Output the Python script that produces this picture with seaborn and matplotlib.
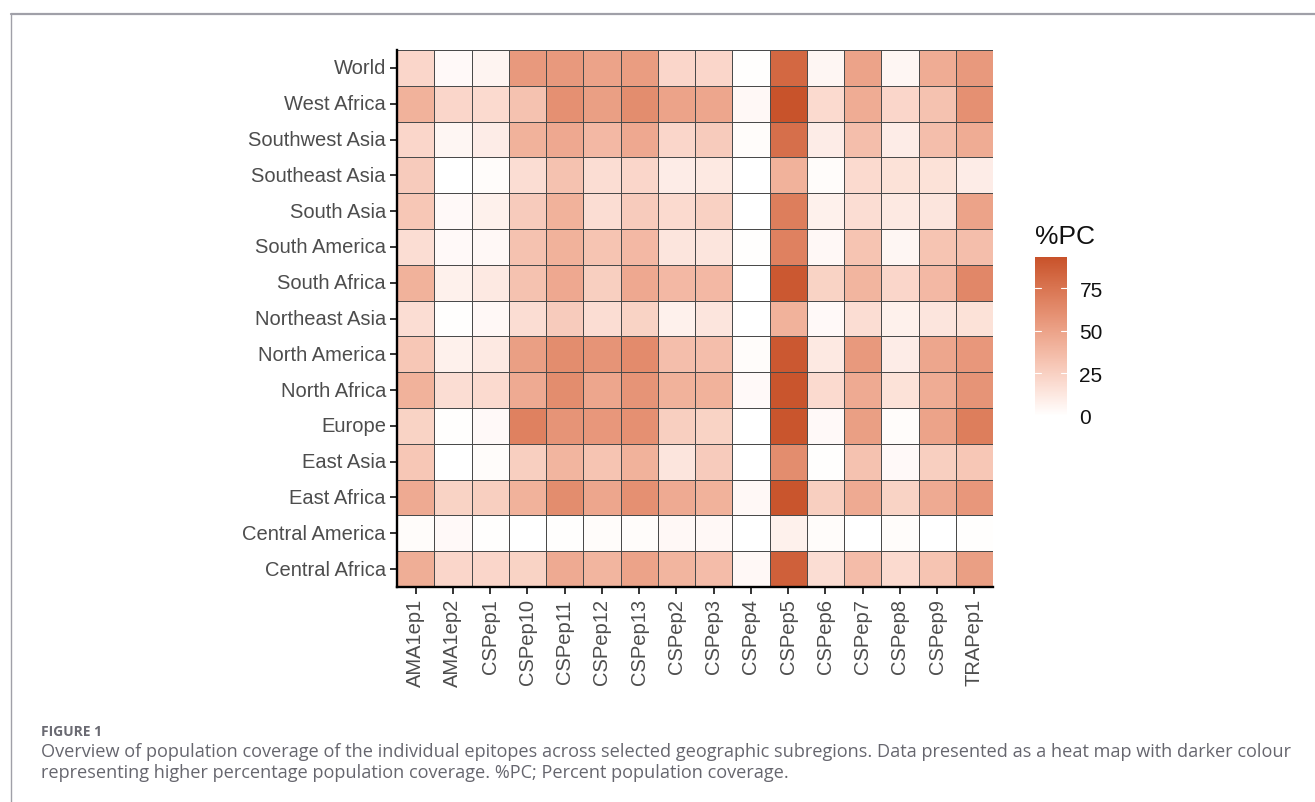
import numpy as np
import pandas as pd
import matplotlib
matplotlib.use("Agg")
import matplotlib.pyplot as plt
from matplotlib.colors import ListedColormap, to_rgb
from matplotlib.lines import Line2D
import seaborn as sns

epitopes = ["AMA1ep1", "AMA1ep2", "CSPep1", "CSPep10", "CSPep11", "CSPep12",
            "CSPep13", "CSPep2", "CSPep3", "CSPep4", "CSPep5", "CSPep6",
            "CSPep7", "CSPep8", "CSPep9", "TRAPep1"]

regions = ["World", "West Africa", "Southwest Asia", "Southeast Asia",
           "South Asia", "South America", "South Africa", "Northeast Asia",
           "North America", "North Africa", "Europe", "East Asia",
           "East Africa", "Central America", "Central Africa"]

# Percent population coverage (%PC) per region, one list per epitope order above
pc_world          = [22, 3, 6, 55, 55, 50, 53, 22, 22, 1, 82, 5, 50, 5, 45, 55]
pc_west_africa    = [42, 22, 20, 33, 60, 52, 62, 50, 48, 4, 93, 20, 45, 22, 33, 60]
pc_southwest_asia = [22, 5, 10, 42, 47, 38, 47, 22, 28, 2, 78, 10, 35, 10, 35, 45]
pc_southeast_asia = [28, 0, 2, 18, 33, 18, 22, 10, 12, 0, 42, 2, 20, 16, 16, 10]
pc_south_asia     = [30, 3, 8, 28, 42, 18, 28, 20, 25, 0, 70, 8, 18, 12, 14, 50]
pc_south_america  = [18, 3, 4, 33, 42, 32, 38, 14, 14, 1, 68, 4, 32, 5, 32, 35]
pc_south_africa   = [42, 8, 12, 33, 47, 26, 47, 38, 38, 0, 90, 24, 40, 22, 38, 65]
pc_northeast_asia = [18, 1, 4, 18, 28, 18, 24, 8, 14, 0, 42, 3, 18, 8, 14, 16]
pc_north_america  = [30, 8, 12, 52, 62, 58, 63, 35, 35, 2, 90, 12, 55, 10, 48, 56]
pc_north_africa   = [42, 18, 20, 46, 62, 48, 58, 42, 42, 3, 92, 20, 46, 16, 45, 58]
pc_europe         = [24, 1, 3, 68, 58, 56, 60, 26, 24, 0, 92, 3, 52, 2, 50, 70]
pc_east_asia      = [30, 0, 2, 26, 40, 32, 42, 14, 28, 0, 62, 1, 33, 3, 26, 30]
pc_east_africa    = [46, 24, 26, 42, 62, 48, 60, 46, 42, 4, 92, 26, 46, 24, 46, 56]
pc_central_america = [2, 3, 1, 0, 1, 2, 2, 4, 4, 0, 8, 2, 0, 2, 0, 1]
pc_central_africa = [44, 22, 22, 24, 46, 40, 50, 40, 36, 4, 86, 18, 36, 20, 32, 52]

cbar_ticks = [0, 25, 50, 75]

coverage = pd.DataFrame(
    [pc_world, pc_west_africa, pc_southwest_asia, pc_southeast_asia,
     pc_south_asia, pc_south_america, pc_south_africa, pc_northeast_asia,
     pc_north_america, pc_north_africa, pc_europe, pc_east_asia,
     pc_east_africa, pc_central_america, pc_central_africa],
    index=regions, columns=epitopes)


# --- white -> burnt orange gradient interpolated in CIE Lab ---
_WHITE_REF = np.array([0.95047, 1.0, 1.08883])
_M = np.array([[0.4124564, 0.3575761, 0.1804375],
               [0.2126729, 0.7151522, 0.0721750],
               [0.0193339, 0.1191920, 0.9503041]])


def srgb_to_lab(rgb):
    rgb = np.asarray(rgb, dtype=float)
    lin = np.where(rgb <= 0.04045, rgb / 12.92, ((rgb + 0.055) / 1.055) ** 2.4)
    xyz = _M @ lin / _WHITE_REF
    f = np.where(xyz > (6 / 29) ** 3, np.cbrt(xyz), xyz / (3 * (6 / 29) ** 2) + 4 / 29)
    return np.array([116 * f[1] - 16, 500 * (f[0] - f[1]), 200 * (f[1] - f[2])])


def lab_to_srgb(lab):
    L, a, b = lab
    fy_ = (L + 16) / 116
    fx_ = fy_ + a / 500
    fz_ = fy_ - b / 200
    f = np.array([fx_, fy_, fz_])
    xyz = np.where(f > 6 / 29, f ** 3, 3 * (6 / 29) ** 2 * (f - 4 / 29)) * _WHITE_REF
    lin = np.linalg.solve(_M, xyz)
    lin = np.clip(lin, 0, 1)
    rgb = np.where(lin <= 0.0031308, 12.92 * lin, 1.055 * lin ** (1 / 2.4) - 0.055)
    return np.clip(rgb, 0, 1)


low_lab = srgb_to_lab(to_rgb("#FFFFFF"))
high_lab = srgb_to_lab(to_rgb("#C8522A"))
steps = np.linspace(0, 1, 256)
cmap = ListedColormap([lab_to_srgb(low_lab + t * (high_lab - low_lab)) for t in steps])

sns.set_theme(style="white")
plt.rcParams["font.family"] = ["Liberation Sans", "DejaVu Sans"]

W, H = 1315, 803
fig = plt.figure(figsize=(W / 100, H / 100), dpi=100)


def fx(px):
    return px / W


def fy(py):
    return 1 - py / H


ax = fig.add_axes([fx(397), fy(588), fx(993) - fx(397), fy(51) - fy(588)])
cax = fig.add_axes([fx(1035), fy(417), fx(32), fy(258) - fy(417)])

vmax = 93.5
sns.heatmap(coverage, ax=ax, cmap=cmap, vmin=0, vmax=vmax,
            linewidths=0.6, linecolor="#4A4A4A", cbar_ax=cax,
            cbar_kws={"ticks": cbar_ticks})

# axis styling: heavy black left/bottom lines, outward ticks
for side in ["top", "right"]:
    ax.spines[side].set_visible(False)
for side in ["left", "bottom"]:
    ax.spines[side].set_visible(True)
    ax.spines[side].set_color("black")
    ax.spines[side].set_linewidth(1.7)
ax.tick_params(axis="both", which="major", length=5, width=1.4,
               color="#333333", labelcolor="#4D4D4D", labelsize=14.5,
               left=True, bottom=True, pad=3)
ax.set_xticklabels(epitopes, rotation=90)
ax.set_yticklabels(regions, rotation=0)
ax.set_xlabel("")
ax.set_ylabel("")

# colourbar styling
cax.set_title("%PC", loc="left", fontsize=19, color="#111111", pad=10)
cbar = ax.collections[0].colorbar
cbar.outline.set_visible(False)
cax.tick_params(length=0, labelsize=15, labelcolor="#111111", pad=9)
for t in cbar_ticks[1:]:
    cax.axhline(t, xmin=0, xmax=0.2, color="white", lw=0.8)
    cax.axhline(t, xmin=0.8, xmax=1, color="white", lw=0.8)

# page frame
fig.add_artist(Line2D([fx(11), 1], [fy(14.5), fy(14.5)], color="#A0A0A8", lw=1.6))
fig.add_artist(Line2D([fx(11), fx(11)], [fy(14.5), 0], color="#A0A0A8", lw=1.0))

cap_font = ["Open Sans", "DejaVu Sans"]
fig.text(fx(41), fy(732), "FIGURE 1", fontsize=10, color="#6A6A72",
         family=cap_font, weight="bold", va="center")
fig.text(fx(41), fy(752),
         "Overview of population coverage of the individual epitopes across selected "
         "geographic subregions. Data presented as a heat map with darker colour",
         fontsize=13.1, color="#66666E", family=cap_font, va="center")
fig.text(fx(41), fy(773),
         "representing higher percentage population coverage. %PC; Percent population coverage.",
         fontsize=13.1, color="#66666E", family=cap_font, va="center")

fig.savefig("out.png", dpi=100, facecolor="white")
